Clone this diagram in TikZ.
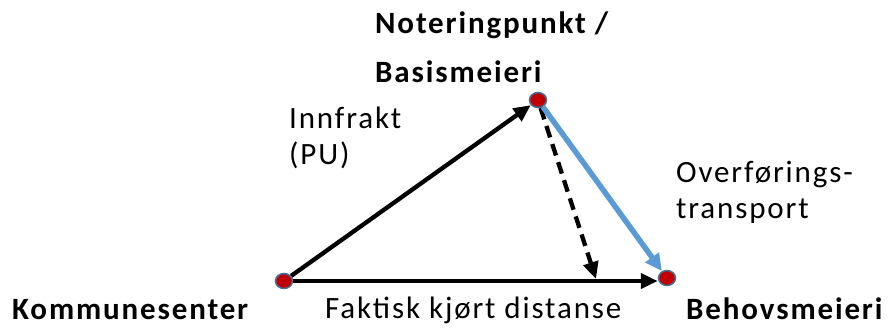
\documentclass[tikz,border=0pt]{standalone}
\usepackage{fontspec}
\setmainfont{Carlito}[LetterSpace=6]
\usetikzlibrary{arrows.meta,shapes.geometric}
\definecolor{dotred}{HTML}{C00000}
\definecolor{dotedge}{HTML}{41719C}
\definecolor{blueline}{HTML}{5B9BD5}
\begin{document}
\begin{tikzpicture}[x=1pt,y=-1pt,
  dot/.style={ellipse,draw=dotedge,line width=1.5pt,fill=dotred,minimum width=17pt,minimum height=15pt,inner sep=0pt},
  lbl/.style={anchor=base west,inner sep=0pt,font=\fontsize{31}{36}\selectfont},
  blbl/.style={lbl,font=\fontsize{31}{36}\selectfont\bfseries},
  arr/.style={line width=4.3pt,-{Triangle[length=17pt,width=15pt]}},
  dasharr/.style={arr,dash pattern=on 12pt off 7pt},
  bluearr/.style={line width=5.5pt,draw=blueline,-{Triangle[length=17pt,width=16pt]}}]
\useasboundingbox (0,0) rectangle (890,329);
\node[dot] (A) at (284,281) {};
\node[dot] (B) at (538,100) {};
\node[dot] (C) at (667,278) {};
\coordinate (D) at (596,279);
\draw[arr] (A) -- (B);
\draw[arr] (A.east) -- (C.west|-A.east);
\draw[dasharr] (B) -- (D);
\draw[bluearr] (B) -- (C);
\node[blbl] (t1) at (375,34) {Noteringpunkt /};
\node[blbl] (t2) at (375,82) {Basismeieri};
\node[blbl] (t3) at (12,319) {Kommunesenter};
\node[lbl] (t4) at (325,318) {Faktisk kjørt distanse};
\node[blbl] (t5) at (686,319) {Behovsmeieri};
\node[lbl] (t6) at (289,128) {Innfrakt};
\node[lbl] (t7) at (289,164) {(PU)};
\node[lbl] (t8) at (676,182) {Overførings-};
\node[lbl] (t9) at (676,218) {transport};
\end{tikzpicture}
\end{document}
